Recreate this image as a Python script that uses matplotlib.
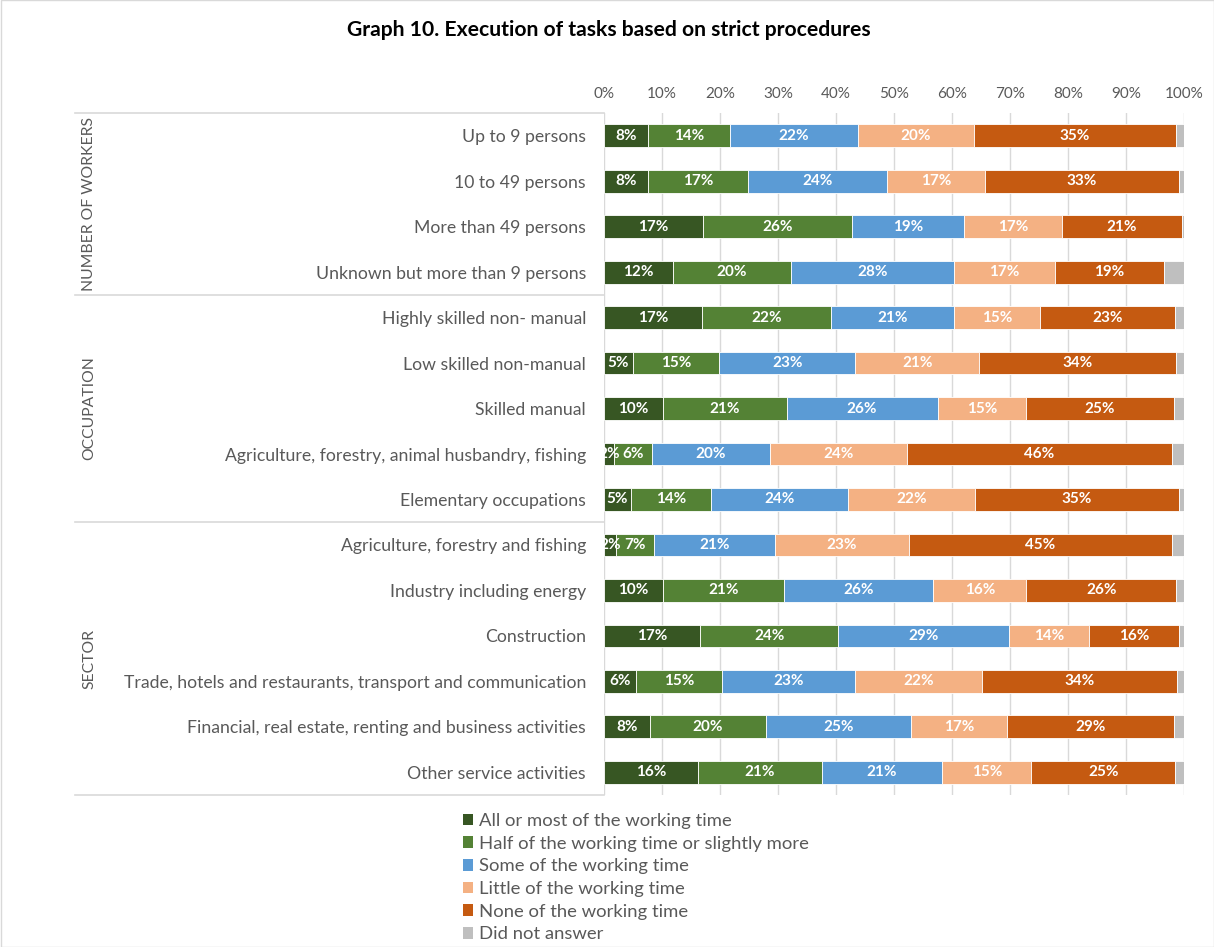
import matplotlib
matplotlib.use("Agg")
import matplotlib.pyplot as plt
import matplotlib.transforms as mtransforms
from matplotlib.lines import Line2D
from matplotlib.patches import Rectangle, Patch

plt.rcParams['font.family'] = ['Lato', 'DejaVu Sans']

title = "Graph 10. Execution of tasks based on strict procedures"

categories = [
    "Up to 9 persons",
    "10 to 49 persons",
    "More than 49 persons",
    "Unknown but more than 9 persons",
    "Highly skilled non- manual",
    "Low skilled non-manual",
    "Skilled manual",
    "Agriculture, forestry, animal husbandry, fishing",
    "Elementary occupations",
    "Agriculture, forestry and fishing",
    "Industry including energy",
    "Construction",
    "Trade, hotels and restaurants, transport and communication",
    "Financial, real estate, renting and business activities",
    "Other service activities",
]

groups = ["NUMBER OF WORKERS", "OCCUPATION", "SECTOR"]
group_sizes = [4, 5, 6]

series_names = [
    "All or most of the working time",
    "Half of the working time or slightly more",
    "Some of the working time",
    "Little of the working time",
    "None of the working time",
    "Did not answer",
]

all_or_most = [7.6, 7.6, 17.0, 11.9, 16.9, 5.0, 10.1, 1.8, 4.6, 2.1, 10.1, 16.6, 5.6, 7.9, 16.2]
half_or_more = [14.1, 17.2, 25.8, 20.3, 22.2, 14.9, 21.4, 6.4, 13.8, 6.6, 20.9, 23.8, 14.8, 20.0, 21.4]
some = [22.1, 24.0, 19.3, 28.1, 21.2, 23.4, 26.0, 20.4, 23.6, 20.7, 25.8, 29.4, 22.9, 25.0, 20.7]
little = [20.0, 16.9, 16.9, 17.4, 14.9, 21.4, 15.3, 23.6, 22.0, 23.2, 16.0, 13.8, 21.9, 16.6, 15.4]
none = [34.8, 33.4, 20.6, 18.8, 23.3, 33.9, 25.4, 45.7, 35.1, 45.3, 25.9, 15.6, 33.6, 28.8, 24.8]
no_answer = [1.4, 0.9, 0.4, 3.5, 1.5, 1.4, 1.8, 2.1, 0.9, 2.1, 1.3, 0.8, 1.2, 1.7, 1.5]

x_ticks = [0, 10, 20, 30, 40, 50, 60, 70, 80, 90, 100]
x_tick_labels = [f"{t}%" for t in x_ticks]

colors = ["#375623", "#548235", "#5B9BD5", "#F4B183", "#C55A11", "#BFBFBF"]
text_color = "#595959"
grid_color = "#D9D9D9"

W, H = 1214, 947
fig = plt.figure(figsize=(W / 100, H / 100), dpi=100)
fig.patch.set_facecolor("white")

# plot area in pixel coordinates
left_px, right_px, top_px, bottom_px = 604, 1184, 113, 795
ax = fig.add_axes([left_px / W, 1 - bottom_px / H,
                   (right_px - left_px) / W, (bottom_px - top_px) / H])

series = [all_or_most, half_or_more, some, little, none, no_answer]
n = len(categories)
ypos = list(range(n))
lefts = [0.0] * n
for si, vals in enumerate(series):
    ax.barh(ypos, vals, left=lefts, height=0.5, color=colors[si],
            edgecolor="white", linewidth=0.6, zorder=3)
    if si < 5:
        for i, v in enumerate(vals):
            ax.text(lefts[i] + v / 2, i, f"{round(v)}%", ha="center", va="center",
                    color="white", fontsize=11, fontweight="bold", zorder=4)
    lefts = [l + v for l, v in zip(lefts, vals)]

ax.set_xlim(0, 100)
ax.set_ylim(n - 0.5, -0.5)
ax.set_xticks(x_ticks)
ax.set_xticklabels(x_tick_labels)
ax.xaxis.tick_top()
ax.tick_params(axis="x", length=0, pad=9, labelsize=11, labelcolor=text_color)
ax.set_yticks(ypos)
ax.set_yticklabels(categories)
ax.tick_params(axis="y", length=0, pad=13, labelsize=12.7, labelcolor=text_color)
ax.grid(axis="x", color=grid_color, linewidth=1, zorder=0)
for sp in ax.spines.values():
    sp.set_visible(False)

# group separators and vertical group labels on the left
trans = mtransforms.blended_transform_factory(fig.transFigure, ax.transData)
bounds = [-0.5]
for s in group_sizes:
    bounds.append(bounds[-1] + s)
for b in bounds:
    fig.add_artist(Line2D([75 / W, left_px / W], [b, b], transform=trans,
                          color=grid_color, linewidth=1.2, clip_on=False))
for gi, name in enumerate(groups):
    center = (bounds[gi] + bounds[gi + 1]) / 2
    fig.text(89 / W, center, name, transform=trans, rotation=90,
             ha="center", va="center", fontsize=11.3, color=text_color)

fig.text(609 / W, 1 - 30 / H, title, ha="center", va="center",
         fontsize=15.2, fontweight="bold", color="black")

handles = [Patch(facecolor=c, edgecolor="none") for c in colors]
fig.legend(handles, series_names, loc="upper left",
           bbox_to_anchor=(463 / W, 1 - 813 / H), frameon=False,
           fontsize=13.3, labelcolor=text_color, handlelength=0.55,
           handleheight=0.6, handletextpad=0.3, labelspacing=0.36,
           borderaxespad=0, borderpad=0)

fig.add_artist(Rectangle((0.5 / W, 0.5 / H), 1 - 1 / W, 1 - 1 / H,
                         transform=fig.transFigure, fill=False,
                         edgecolor=grid_color, linewidth=1))

fig.savefig("out.png", dpi=100)
